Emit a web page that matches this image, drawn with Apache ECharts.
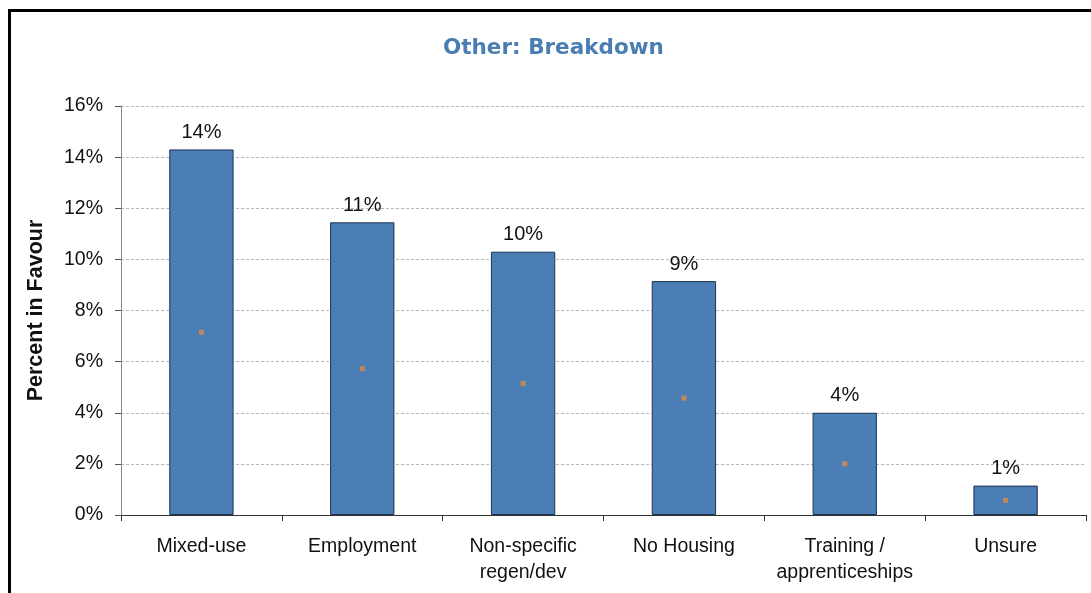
<!DOCTYPE html>
<html>
<head>
<meta charset="utf-8">
<title>Other: Breakdown</title>
<script src="https://cdn.jsdelivr.net/npm/echarts@6/dist/echarts.min.js"></script>
<style>
  html, body { margin: 0; padding: 0; background: #ffffff; }
  #chart { width: 1091px; height: 593px; }
</style>
</head>
<body>
<div id="chart"></div>
<script>
// Breakdown of "Other" responses, percent in favour
const categories = ['Mixed-use', 'Employment', 'Non-specific\nregen/dev', 'No Housing', 'Training /\napprenticeships', 'Unsure'];
const percentInFavour = [14.3, 11.45, 10.3, 9.15, 4.0, 1.15];
const yTicks = { min: 0, max: 16, interval: 2 };

const FONT = '"Liberation Sans", Arial, sans-serif';
const chart = echarts.init(document.getElementById('chart'), null, { renderer: 'canvas' });

chart.setOption({
  animation: false,
  backgroundColor: '#ffffff',
  title: {
    text: 'Other: Breakdown',
    left: 438,
    top: 32,
    textStyle: { fontFamily: '"DejaVu Sans", Verdana, sans-serif', fontWeight: 'bold', fontSize: 21.5, color: '#4a7eb3' }
  },
  graphic: [{
    type: 'rect',
    shape: { x: 9.5, y: 10.5, width: 1200, height: 700 },
    style: { fill: 'none', stroke: '#000000', lineWidth: 3 },
    silent: true
  }],
  grid: { left: 121, right: 5, top: 106, bottom: 78 },
  xAxis: {
    type: 'category',
    data: categories,
    axisLine: { lineStyle: { color: '#333333', width: 1 } },
    axisTick: { show: true, interval: 0, length: 6, lineStyle: { color: '#333333' } },
    axisLabel: { interval: 0, fontFamily: FONT, fontSize: 19.5, color: '#111111', margin: 19, lineHeight: 26 }
  },
  yAxis: {
    type: 'value',
    min: yTicks.min,
    max: yTicks.max,
    interval: yTicks.interval,
    name: 'Percent in Favour',
    nameLocation: 'middle',
    nameGap: 74,
    nameTextStyle: { fontFamily: FONT, fontWeight: 'bold', fontSize: 21.5, color: '#111111' },
    axisLine: { show: true, lineStyle: { color: '#888888', width: 1 } },
    axisTick: { show: true, length: 6, lineStyle: { color: '#555555' } },
    axisLabel: { fontFamily: FONT, fontSize: 19.5, color: '#111111', margin: 18, formatter: v => v + '%' },
    splitLine: { show: true, lineStyle: { color: '#b8b8b8', type: [3, 2], width: 1 } }
  },
  series: [
    {
      type: 'bar',
      data: percentInFavour,
      barWidth: '40%',
      barGap: '-100%',
      itemStyle: { color: '#4a7eb4', borderColor: '#1d3350', borderWidth: 1 },
      label: {
        show: true,
        position: 'top',
        distance: 7,
        fontFamily: FONT,
        fontSize: 20,
        color: '#111111',
        formatter: p => Math.round(p.value) + '%'
      }
    },
    {
      // small centre marker inside each bar
      type: 'bar',
      data: percentInFavour,
      barWidth: '40%',
      barGap: '-100%',
      silent: true,
      itemStyle: { color: 'rgba(0,0,0,0)' },
      label: {
        show: true,
        position: 'inside',
        formatter: '{m|}',
        rich: { m: { width: 5, height: 5, backgroundColor: '#c0895c' } }
      }
    }
  ]
});
</script>
</body>
</html>
